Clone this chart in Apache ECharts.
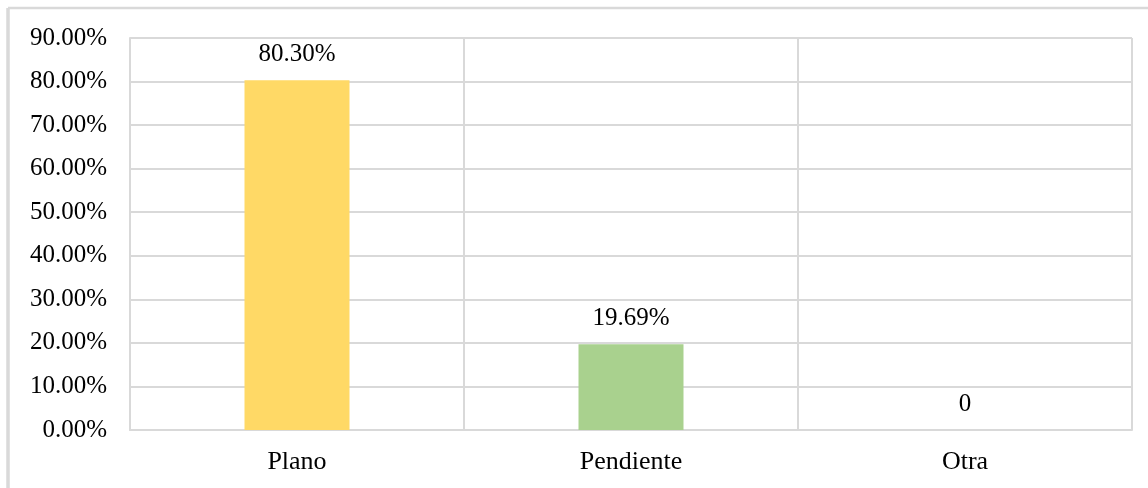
<!DOCTYPE html>
<html>
<head>
<meta charset="utf-8">
<script src="https://cdn.jsdelivr.net/npm/echarts@6/dist/echarts.min.js"></script>
<style>
  html, body { margin: 0; padding: 0; background: #fff; }
  #chart { width: 1148px; height: 488px; }
</style>
</head>
<body>
<div id="chart"></div>
<script>
// categorias y valores (%)
var categories = ["Plano", "Pendiente", "Otra"];
var values = [80.30, 19.69, 0];
var barColors = ["#FFD966", "#A9D18E", "#A9D18E"];

var gridColor = "#d9d9d9";
var font = "'Liberation Serif', 'Times New Roman', serif";

var myechart = echarts.init(document.getElementById("chart"));
var option = {
  animation: false,
  graphic: [
    // marco exterior
    { type: "line", shape: { x1: 8, y1: 8, x2: 1148, y2: 8 }, style: { stroke: gridColor, lineWidth: 2.5 } },
    { type: "line", shape: { x1: 8, y1: 8, x2: 8, y2: 488 }, style: { stroke: gridColor, lineWidth: 3.5 } }
  ],
  grid: { left: 130, right: 16, top: 38, bottom: 58 },
  xAxis: {
    type: "category",
    data: categories,
    axisTick: { show: false },
    axisLine: { lineStyle: { color: gridColor, width: 2 } },
    splitLine: { show: true, interval: 0, lineStyle: { color: gridColor, width: 2 } },
    axisLabel: { color: "#000", fontFamily: font, fontSize: 26, margin: 19 }
  },
  yAxis: {
    type: "value",
    min: 0,
    max: 90,
    interval: 10,
    axisLine: { show: true, lineStyle: { color: gridColor, width: 2 } },
    axisTick: { show: false },
    splitLine: { lineStyle: { color: gridColor, width: 2 } },
    axisLabel: {
      color: "#000", fontFamily: font, fontSize: 25, margin: 23,
      formatter: function (v) { return v.toFixed(2) + "%"; }
    }
  },
  series: [{
    type: "bar",
    barWidth: 105,
    data: values.map(function (v, i) {
      return { value: v, itemStyle: { color: barColors[i] } };
    }),
    label: {
      show: true,
      position: "top",
      distance: 13,
      color: "#000",
      fontFamily: font,
      fontSize: 25,
      formatter: function (p) { return p.value === 0 ? "0" : p.value.toFixed(2) + "%"; }
    }
  }]
};
myechart.setOption(option);
</script>
</body>
</html>
